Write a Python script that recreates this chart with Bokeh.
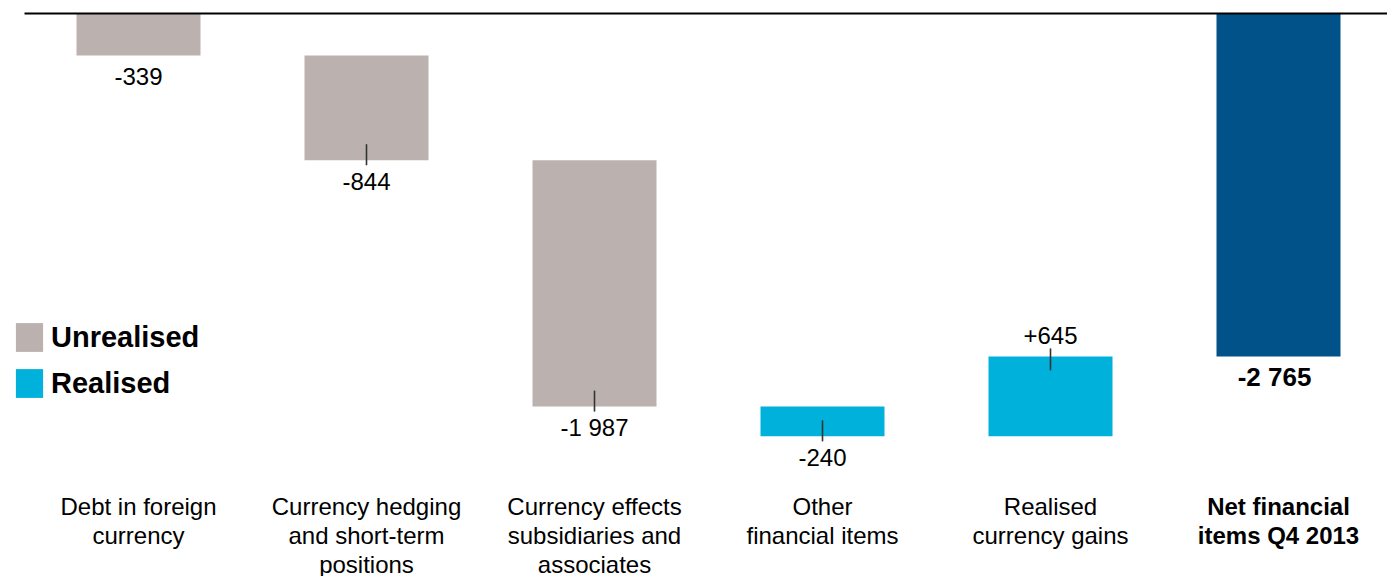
from bokeh.plotting import figure
from bokeh.models import ColumnDataSource, Range1d, Legend, LegendItem
from bokeh.core.properties import value
from bokeh.embed import file_html
from bokeh.resources import INLINE

# ---- data ----
categories = [
    "Debt in foreign\ncurrency",
    "Currency hedging\nand short-term\npositions",
    "Currency effects\nsubsidiaries and\nassociates",
    "Other\nfinancial items",
    "Realised\ncurrency gains",
    "Net financial\nitems Q4 2013",
]
changes = [-339, -844, -1987, -240, 645]
kinds = ["Unrealised", "Unrealised", "Unrealised", "Realised", "Realised"]
total = -2765

GRAY = "#BBB2AF"
CYAN = "#00B1DB"
NAVY = "#005288"
FONT = "Liberation Sans"

W, H = 1387, 576
Y_TOP, Y_BOT = 104.8, -4540.0
PX = H / (Y_TOP - Y_BOT)          # pixels per data unit
X0 = -138 / 228
X1 = X0 + W / 228
BAR_W = 124 / 228

def fmt(v):
    return f"{v:+,}".replace(",", " ")

# waterfall geometry
starts, ends = [], []
cum = 0
for c in changes:
    starts.append(cum)
    cum += c
    ends.append(cum)

xs = list(range(len(changes)))
un_idx = [i for i, k in enumerate(kinds) if k == "Unrealised"]
re_idx = [i for i, k in enumerate(kinds) if k == "Realised"]

src_un = ColumnDataSource(dict(x=[xs[i] for i in un_idx],
                               top=[max(starts[i], ends[i]) for i in un_idx],
                               bottom=[min(starts[i], ends[i]) for i in un_idx]))
src_re = ColumnDataSource(dict(x=[xs[i] for i in re_idx],
                               top=[max(starts[i], ends[i]) for i in re_idx],
                               bottom=[min(starts[i], ends[i]) for i in re_idx]))
src_tot = ColumnDataSource(dict(x=[len(changes)], top=[0], bottom=[total]))

p = figure(width=W, height=H, output_backend="svg", toolbar_location=None,
           x_axis_type=None, y_axis_type=None,
           x_range=Range1d(X0, X1), y_range=Range1d(Y_BOT, Y_TOP),
           min_border=0, outline_line_color=None)
p.grid.visible = False

r_un = p.vbar(x="x", top="top", bottom="bottom", width=BAR_W, source=src_un,
              fill_color=GRAY, line_color=None)
r_re = p.vbar(x="x", top="top", bottom="bottom", width=BAR_W, source=src_re,
              fill_color=CYAN, line_color=None)
p.vbar(x="x", top="top", bottom="bottom", width=BAR_W, source=src_tot,
       fill_color=NAVY, line_color=None)

# zero baseline
p.segment(x0=[-0.5], x1=[X1 + 1], y0=[0], y1=[0], line_color="black", line_width=2)

# connector ticks at bar ends (not on first bar)
tx, ty0, ty1 = [], [], []
for i in range(1, len(changes)):
    e = ends[i]
    if changes[i] < 0:
        ty0.append(e + 16 / PX); ty1.append(e - 5 / PX)
    else:
        ty0.append(e + 8 / PX); ty1.append(e - 14 / PX)
    tx.append(xs[i])
p.segment(x0=tx, x1=tx, y0=ty0, y1=ty1, line_color="#333333", line_width=1.6)

# value labels
lab_off = [21 if c < 0 else -21 for c in changes]
p.text(x=xs, y=ends, text=[fmt(c) for c in changes], y_offset=lab_off,
       text_align="center", text_baseline="middle",
       text_font=value(FONT), text_font_size="24px", text_color="black")
p.text(x=[len(changes)], y=[total], text=[fmt(total)], y_offset=[21], x_offset=[-4],
       text_align="center", text_baseline="middle",
       text_font=value(FONT), text_font_size="26px", text_font_style="bold",
       text_color="black")

# category labels
cat_y = Y_TOP - 492 / PX
p.text(x=xs, y=[cat_y] * len(xs), text=categories[:-1],
       text_align="center", text_baseline="top", text_line_height=1.08,
       text_font=value(FONT), text_font_size="24px", text_color="black")
p.text(x=[len(changes)], y=[cat_y], text=[categories[-1]],
       text_align="center", text_baseline="top", text_line_height=1.08,
       text_font=value(FONT), text_font_size="24px", text_font_style="bold",
       text_color="black")

legend = Legend(items=[LegendItem(label="Unrealised", renderers=[r_un]),
                       LegendItem(label="Realised", renderers=[r_re])],
                location=(12, 175), orientation="vertical",
                glyph_width=34, glyph_height=36, label_standoff=5,
                label_text_font=FONT, label_text_font_size="29px",
                label_text_font_style="bold", label_text_color="black",
                spacing=10, padding=0, margin=0,
                border_line_color=None, background_fill_alpha=0)
p.add_layout(legend)

open("out.html", "w").write(file_html(p, INLINE))
